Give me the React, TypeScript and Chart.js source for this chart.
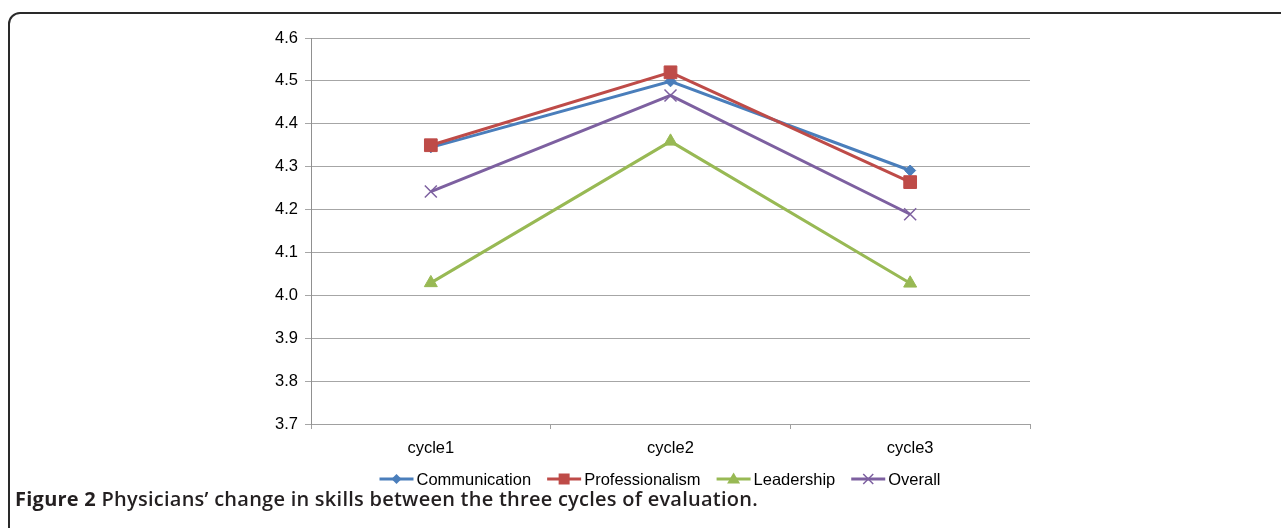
import React, { useEffect, useRef } from 'react';
import { Chart, registerables } from 'chart.js';

Chart.register(...registerables);

const categories = ['cycle1', 'cycle2', 'cycle3'];
const communication = [4.345, 4.499, 4.291];
const professionalism = [4.35, 4.52, 4.264];
const leadership = [4.029, 4.359, 4.028];
const overall = [4.242, 4.466, 4.189];
const seriesNames = ['Communication', 'Professionalism', 'Leadership', 'Overall'];
const seriesColors = ['#4a7ebb', '#be4b48', '#98b954', '#7d60a0'];
const seriesMarkers = ['rectRot', 'rect', 'triangle', 'crossRot'];
const yMin = 3.7;
const yMax = 4.6;
const yStep = 0.1;
const captionBold = 'Figure 2';
const captionText = ' Physicians\u2019 change in skills between the three cycles of evaluation.';

const FONT = '"Liberation Sans", Arial, Helvetica, sans-serif';
const FONT_SIZE = 16.5;

function drawMarker(ctx: CanvasRenderingContext2D, kind: string, x: number, y: number, color: string) {
  ctx.save();
  ctx.fillStyle = color;
  ctx.strokeStyle = color;
  ctx.lineWidth = 1.5;
  ctx.beginPath();
  if (kind === 'rectRot') {
    const r = 5;
    ctx.moveTo(x - r, y);
    ctx.lineTo(x, y - r);
    ctx.lineTo(x + r, y);
    ctx.lineTo(x, y + r);
    ctx.closePath();
    ctx.fill();
  } else if (kind === 'rect') {
    const s = 5.5;
    ctx.rect(x - s, y - s, 2 * s, 2 * s);
    ctx.fill();
  } else if (kind === 'triangle') {
    const r = 6.5;
    ctx.moveTo(x, y - r);
    ctx.lineTo(x + r, y + r * 0.7);
    ctx.lineTo(x - r, y + r * 0.7);
    ctx.closePath();
    ctx.fill();
  } else {
    const r = 5;
    ctx.moveTo(x - r, y - r);
    ctx.lineTo(x + r, y + r);
    ctx.moveTo(x + r, y - r);
    ctx.lineTo(x - r, y + r);
    ctx.stroke();
  }
  ctx.restore();
}

const lineLegend = {
  id: 'lineLegend',
  afterDraw(chart: any) {
    const ctx: CanvasRenderingContext2D = chart.ctx;
    ctx.save();
    ctx.font = FONT_SIZE + 'px ' + FONT;
    const lineW = 34;
    const gapText = 3;
    const gapItem = 16;
    const ds = chart.data.datasets;
    const widths = ds.map((d: any) => ctx.measureText(d.label).width);
    const total = widths.reduce((s: number, w: number) => s + lineW + gapText + w, 0) + gapItem * (ds.length - 1);
    const cx = 660;
    const y = 479;
    let x = cx - total / 2;
    ds.forEach((d: any, i: number) => {
      ctx.strokeStyle = d.borderColor;
      ctx.lineWidth = 3;
      ctx.beginPath();
      ctx.moveTo(x, y);
      ctx.lineTo(x + lineW, y);
      ctx.stroke();
      drawMarker(ctx, d.pointStyle, x + lineW / 2, y, d.borderColor);
      ctx.fillStyle = '#000';
      ctx.textBaseline = 'middle';
      ctx.textAlign = 'left';
      ctx.fillText(d.label, x + lineW + gapText, y + 1);
      x += lineW + gapText + widths[i] + gapItem;
    });
    ctx.restore();
  },
};

const seriesData = [communication, professionalism, leadership, overall];
const markerRadius: Record<string, number> = { rectRot: 5.5, rect: 9, triangle: 7.5, crossRot: 8.5 };

export default function App() {
  const ref = useRef<HTMLCanvasElement | null>(null);

  useEffect(() => {
    if (!ref.current) return;
    const chart = new Chart(ref.current, {
      type: 'line',
      data: {
        labels: categories,
        datasets: seriesNames.map((name, i) => ({
          label: name,
          data: seriesData[i],
          borderColor: seriesColors[i],
          backgroundColor: seriesColors[i],
          pointBackgroundColor: seriesColors[i],
          pointBorderColor: seriesColors[i],
          pointStyle: seriesMarkers[i] as any,
          pointRadius: markerRadius[seriesMarkers[i]],
          pointBorderWidth: seriesMarkers[i] === 'crossRot' ? 1.5 : 1,
          borderWidth: 3,
          tension: 0,
          fill: false,
          order: seriesNames.length - i,
        })),
      },
      options: {
        animation: false,
        responsive: false,
        maintainAspectRatio: false,
        devicePixelRatio: 1,
        layout: { padding: { left: 250, right: 251, top: 38, bottom: 31 } },
        plugins: {
          legend: { display: false },
          tooltip: { enabled: false },
          title: { display: false },
        },
        scales: {
          x: {
            type: 'category',
            offset: true,
            grid: {
              offset: true,
              drawOnChartArea: false,
              drawTicks: true,
              tickLength: 5,
              color: '#a0a0a0',
              lineWidth: 1,
            },
            border: { display: true, color: '#a0a0a0', width: 1 },
            ticks: { color: '#000', font: { family: FONT, size: FONT_SIZE }, padding: 10, maxRotation: 0 },
            afterFit: (scale: any) => { scale.height = 40; },
          },
          y: {
            min: yMin,
            max: yMax,
            grid: { color: '#a6a6a6', lineWidth: 1, drawTicks: true, tickLength: 6 },
            border: { display: true, color: '#909090', width: 1 },
            ticks: {
              stepSize: yStep,
              color: '#000',
              font: { family: FONT, size: FONT_SIZE },
              padding: 7,
              callback: (v: any) => Number(v).toFixed(1),
            },
            afterFit: (scale: any) => { scale.width = 61; },
          },
        },
      },
      plugins: [lineLegend],
    });
    return () => chart.destroy();
  }, []);

  return (
    <div style={{ position: 'fixed', left: 0, top: 0, width: 1281, height: 528, overflow: 'hidden', background: '#fff' }}>
      <div
        style={{
          position: 'absolute',
          left: 8,
          top: 12,
          width: 1300,
          height: 560,
          border: '2px solid #2a2a2a',
          borderRadius: 12,
          boxSizing: 'border-box',
        }}
      />
      <canvas ref={ref} width={1281} height={495} style={{ position: 'absolute', left: 0, top: 0, width: 1281, height: 495 }} />
      <div
        style={{
          position: 'absolute',
          left: 15,
          top: 487,
          whiteSpace: 'nowrap',
          fontFamily: '"Open Sans", "Noto Sans", sans-serif',
          fontSize: 20,
          fontWeight: 600,
          letterSpacing: '0.25px',
          color: '#231f20',
          lineHeight: '24px',
        }}
      >
        <span style={{ fontWeight: 700 }}>{captionBold}</span>
        <span>{captionText}</span>
      </div>
    </div>
  );
}
